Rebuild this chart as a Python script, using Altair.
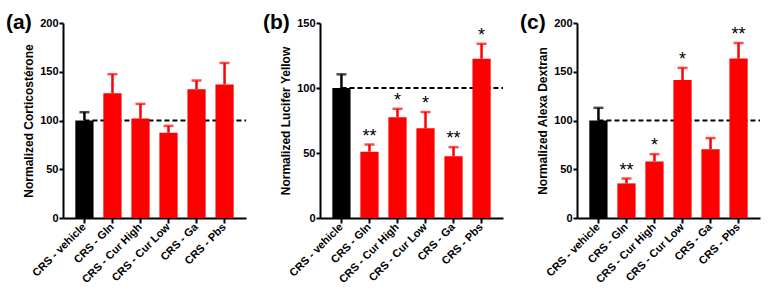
import altair as alt
import pandas as pd

categories = ["CRS - vehicle", "CRS - Gln", "CRS - Cur High", "CRS - Cur Low", "CRS - Ga", "CRS - Pbs"]
groups = ["vehicle", "treated", "treated", "treated", "treated", "treated"]

cort_mean = [100, 128, 102, 87.5, 132, 137]
cort_sem = [8.5, 19.5, 15, 7, 9, 22]
cort_stars = ["", "", "", "", "", ""]

lucifer_mean = [100, 51, 77.5, 69, 47.5, 122.5]
lucifer_sem = [10.5, 5.5, 6.5, 12.5, 7, 11.5]
lucifer_stars = ["", "**", "*", "*", "**", "*"]

alexa_mean = [100, 35.5, 58, 141.5, 70.5, 163.5]
alexa_sem = [13, 5, 7.5, 12.5, 11.5, 16]
alexa_stars = ["", "**", "*", "*", "", "**"]

panel_labels = ["(a)", "(b)", "(c)"]
y_titles = ["Normalized Corticostérone", "Normalized Lucifer Yellow", "Normalized Alexa Dextran"]
y_max = [200, 150, 200]
y_ticks = [[0, 50, 100, 150, 200], [0, 50, 100, 150], [0, 50, 100, 150, 200]]
ref_value = 100

FONT = "Liberation Sans"
W, H = 183, 195


def panel(means, sems, stars, label, ytitle, ymax, ticks):
    df = pd.DataFrame({
        "cat": categories,
        "group": groups,
        "mean": means,
        "upper": [m + s for m, s in zip(means, sems)],
        "star": stars,
    })
    xscale = alt.Scale(domain=categories, paddingInner=0.35, paddingOuter=0.44)
    xenc = alt.X("cat:N", scale=xscale,
                 axis=alt.Axis(title=None, labelAngle=-45, labelFontWeight="bold",
                               labelFontSize=11, labelColor="black", tickSize=5,
                               tickWidth=2, tickColor="black", domainWidth=2,
                               domainColor="black", labelPadding=2))
    yscale = alt.Scale(domain=[0, ymax], nice=False)
    yaxis = alt.Axis(title=ytitle, values=ticks, grid=False, labelFontWeight="bold",
                     labelFontSize=11, labelColor="black", tickSize=4, tickWidth=2,
                     tickColor="black", domainWidth=2, domainColor="black",
                     labelPadding=1, titleFontSize=12, titleFontWeight="bold",
                     titleColor="black", titlePadding=4)
    color = alt.Color("group:N", scale=alt.Scale(domain=["vehicle", "treated"],
                                                  range=["#000000", "#FF0000"]), legend=None)
    base = alt.Chart(df)
    ref = alt.Chart(pd.DataFrame({"v": [ref_value], "c": [categories[0]]})).mark_rule(
        color="black", strokeWidth=2, strokeDash=[5, 3]).encode(
        x=alt.X("c:N", scale=xscale),
        x2=alt.value(W),
        y=alt.Y("v:Q", scale=yscale, axis=yaxis))
    bars = base.mark_bar().encode(x=xenc, y=alt.Y("mean:Q", scale=yscale, axis=yaxis), color=color)
    err = base.mark_rule(strokeWidth=2.5).encode(x=xenc, y="mean:Q", y2="upper:Q", color=color)
    cap = base.mark_tick(orient="horizontal", size=10, thickness=2.5).encode(
        x=xenc, y="upper:Q", color=color)
    txt = base.mark_text(fontSize=18, font=FONT, baseline="alphabetic", dy=-3,
                         color="black").encode(x=xenc, y="upper:Q", text="star:N")
    return alt.layer(ref, bars, err, cap, txt).properties(
        width=W, height=H,
        title=alt.TitleParams(label, anchor="start", frame="group", dx=-57,
                              fontSize=21, fontWeight="bold", font=FONT,
                              color="black", offset=-33, baseline="alphabetic"))


charts = [
    panel(cort_mean, cort_sem, cort_stars, panel_labels[0], y_titles[0], y_max[0], y_ticks[0]),
    panel(lucifer_mean, lucifer_sem, lucifer_stars, panel_labels[1], y_titles[1], y_max[1], y_ticks[1]),
    panel(alexa_mean, alexa_sem, alexa_stars, panel_labels[2], y_titles[2], y_max[2], y_ticks[2]),
]

chart = alt.hconcat(*charts, spacing=16).properties(
    padding={"left": 6, "top": 12, "right": 0, "bottom": 0}
).configure(font=FONT).configure_view(stroke=None).configure_axis(labelFont=FONT, titleFont=FONT)

chart.save("out.html", embed_options={"renderer": "svg", "actions": False})
